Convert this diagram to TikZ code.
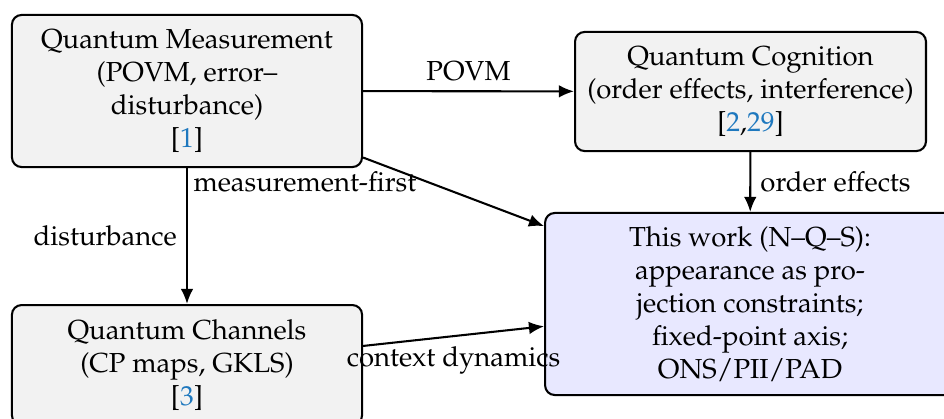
\documentclass[tikz,border=0pt]{standalone}
\usepackage[T1]{fontenc}
\usepackage{mathpazo}
\usetikzlibrary{arrows.meta}
\definecolor{citeblue}{RGB}{30,120,190}
\newcommand{\refnum}[1]{\textcolor{citeblue}{#1}}

\begin{document}
\begin{tikzpicture}[x=0.3636pt, y=-0.3636pt, >={Latex[length=5.5pt, width=4.6pt]},
    box/.style={draw, line width=0.75pt, rounded corners=3.5pt, fill=black!5, align=center},
    workbox/.style={box, fill=blue!9}]
    \useasboundingbox (0,0) rectangle (944,419);
    \clip (0,0) rectangle (944,419);
    % boxes
    \node[box, minimum width=127.3pt, minimum height=55.3pt] (qm) at (187,91) {Quantum Measurement\\(POVM, error--\\disturbance)\\{[}\refnum{1}{]}};
    \node[box, minimum width=127.6pt, minimum height=43.3pt] (qc) at (750.5,91.5) {Quantum Cognition\\(order effects, interference)\\{[}\refnum{2},\refnum{29}{]}};
    \node[box, minimum width=127.3pt, minimum height=43.6pt] (qch) at (187,365) {Quantum Channels\\(CP maps, GKLS)\\{[}\refnum{3}{]}};
    \node[workbox, minimum width=149pt, minimum height=66.2pt] (work) at (750,304) {This work (N--Q--S):\\appearance as pro-\\jection constraints;\\fixed-point axis;\\ONS/PII/PAD};
    % links
    \draw[->, line width=0.75pt] (qm) -- node[above] {POVM} (qc);
    \draw[->, line width=0.75pt] (qm) -- node[left] {disturbance} (qch);
    \draw[->, line width=0.75pt] (qm) -- node[pos=0.35, left] {measurement-first} (work);
    \draw[->, line width=0.75pt] (qc) -- node[right] {order effects} (work);
    \draw[->, line width=0.75pt] (qch) -- node[below] {context dynamics} (work);
\end{tikzpicture}
\end{document}
